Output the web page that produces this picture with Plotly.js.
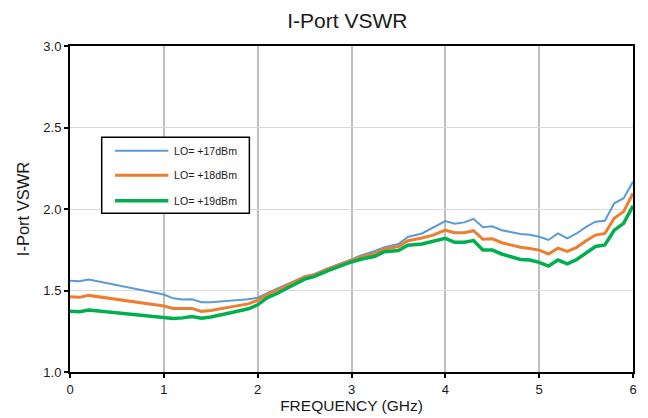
<!DOCTYPE html>
<html><head><meta charset="utf-8">
<script src="https://cdn.plot.ly/plotly-3.0.1.min.js"></script>
<style>html,body{margin:0;padding:0;background:#fff}#chart{width:648px;height:418px}</style>
</head><body><div id="chart"></div>
<script>
const freq = [0, 0.1, 0.2, 1.0, 1.1, 1.2, 1.3, 1.4, 1.5, 1.7, 1.9, 2.0, 2.1, 2.2, 2.4, 2.5, 2.6, 2.75, 3.0, 3.1, 3.25, 3.35, 3.5, 3.6, 3.75, 3.87, 4.0, 4.1, 4.2, 4.3, 4.4, 4.5, 4.6, 4.8, 4.9, 5.0, 5.1, 5.2, 5.3, 5.4, 5.5, 5.6, 5.7, 5.8, 5.9, 6.0];
const lo17 = [1.56, 1.557, 1.568, 1.475, 1.452, 1.445, 1.446, 1.428, 1.428, 1.436, 1.446, 1.456, 1.485, 1.51, 1.56, 1.588, 1.60, 1.637, 1.69, 1.715, 1.742, 1.765, 1.785, 1.828, 1.85, 1.885, 1.926, 1.91, 1.918, 1.94, 1.888, 1.894, 1.87, 1.847, 1.842, 1.83, 1.81, 1.85, 1.82, 1.85, 1.89, 1.922, 1.928, 2.035, 2.066, 2.167];
const lo18 = [1.462, 1.458, 1.47, 1.405, 1.39, 1.39, 1.39, 1.372, 1.378, 1.398, 1.418, 1.44, 1.475, 1.50, 1.555, 1.582, 1.595, 1.632, 1.685, 1.705, 1.728, 1.755, 1.77, 1.805, 1.822, 1.84, 1.87, 1.855, 1.855, 1.867, 1.814, 1.818, 1.793, 1.765, 1.758, 1.748, 1.724, 1.76, 1.74, 1.765, 1.805, 1.84, 1.85, 1.943, 1.984, 2.097];
const lo19 = [1.372, 1.37, 1.38, 1.338, 1.328, 1.332, 1.34, 1.33, 1.338, 1.362, 1.388, 1.412, 1.455, 1.48, 1.54, 1.57, 1.585, 1.622, 1.675, 1.692, 1.71, 1.738, 1.745, 1.778, 1.785, 1.80, 1.82, 1.796, 1.796, 1.806, 1.748, 1.748, 1.724, 1.69, 1.687, 1.673, 1.65, 1.687, 1.664, 1.69, 1.732, 1.77, 1.78, 1.87, 1.912, 2.02];
const names = ['LO= +17dBm', 'LO= +18dBm', 'LO= +19dBm'];
const xTicks = [0, 1, 2, 3, 4, 5, 6];
const yTicks = [1.0, 1.5, 2.0, 2.5, 3.0];

const font = 'Liberation Sans, Arial, sans-serif';
const txt = '#1a1a1a';
const series = [lo17, lo18, lo19];
const colors = ['#5B9BD5', '#ED7D31', '#00B050'];
const widths = [2, 3, 3.5];
const traces = series.map((ys, i) => ({
  x: freq, y: ys, type: 'scatter', mode: 'lines', name: names[i],
  showlegend: false,
  line: {color: colors[i], width: widths[i]}
}));

// legend box drawn in paper space (style only, not data)
const leg = {x0: 0.0563, x1: 0.3186, y0: 0.4868, y1: 0.72, lx0: 0.080, lx1: 0.1747, tx: 0.1818, rows: [0.6788, 0.6034, 0.5255]};
const shapes = [{type: 'rect', xref: 'paper', yref: 'paper', x0: leg.x0, x1: leg.x1, y0: leg.y0, y1: leg.y1,
  line: {color: '#000', width: 1.5}, fillcolor: '#fff', layer: 'above'}];
const annotations = [];
names.forEach((n, i) => {
  shapes.push({type: 'line', xref: 'paper', yref: 'paper', x0: leg.lx0, x1: leg.lx1, y0: leg.rows[i], y1: leg.rows[i],
    line: {color: colors[i], width: widths[i]}, layer: 'above'});
  annotations.push({xref: 'paper', yref: 'paper', x: leg.tx, y: leg.rows[i], xanchor: 'left', yanchor: 'middle',
    text: n, showarrow: false, font: {family: font, size: 10.6, color: txt}});
});

const layout = {
  width: 648, height: 418,
  margin: {l: 70, r: 15, t: 46, b: 46},
  paper_bgcolor: '#fff', plot_bgcolor: '#fff',
  font: {family: font, color: txt, size: 13},
  title: {text: 'I-Port VSWR', font: {family: font, size: 21, color: txt}, x: 0.536, xanchor: 'center', y: 0.95, yanchor: 'middle'},
  showlegend: false,
  shapes: shapes,
  annotations: annotations,
  xaxis: {
    range: [0, 6], tickvals: xTicks, ticktext: xTicks.map(String),
    showgrid: true, gridcolor: '#BFBFBF', gridwidth: 2,
    showline: true, linecolor: '#000', linewidth: 2, mirror: true,
    ticks: 'outside', ticklen: 4, tickcolor: '#000', tickwidth: 2,
    zeroline: false, tickfont: {family: font, size: 13, color: txt},
    title: {text: 'FREQUENCY (GHz)', font: {family: font, size: 15.5, color: txt}, standoff: 3}
  },
  yaxis: {
    range: [1, 3], tickvals: yTicks, ticktext: yTicks.map(v => v.toFixed(1)),
    showgrid: true, gridcolor: '#D9D9D9', gridwidth: 1,
    showline: true, linecolor: '#000', linewidth: 2, mirror: true,
    ticks: 'outside', ticklen: 4, tickcolor: '#000', tickwidth: 2,
    zeroline: false, tickfont: {family: font, size: 13, color: txt},
    title: {text: 'I-Port VSWR', font: {family: font, size: 16.5, color: txt}, standoff: 10}
  }
};
Plotly.newPlot('chart', traces, layout, {displayModeBar: false, staticPlot: true});
</script></body></html>
